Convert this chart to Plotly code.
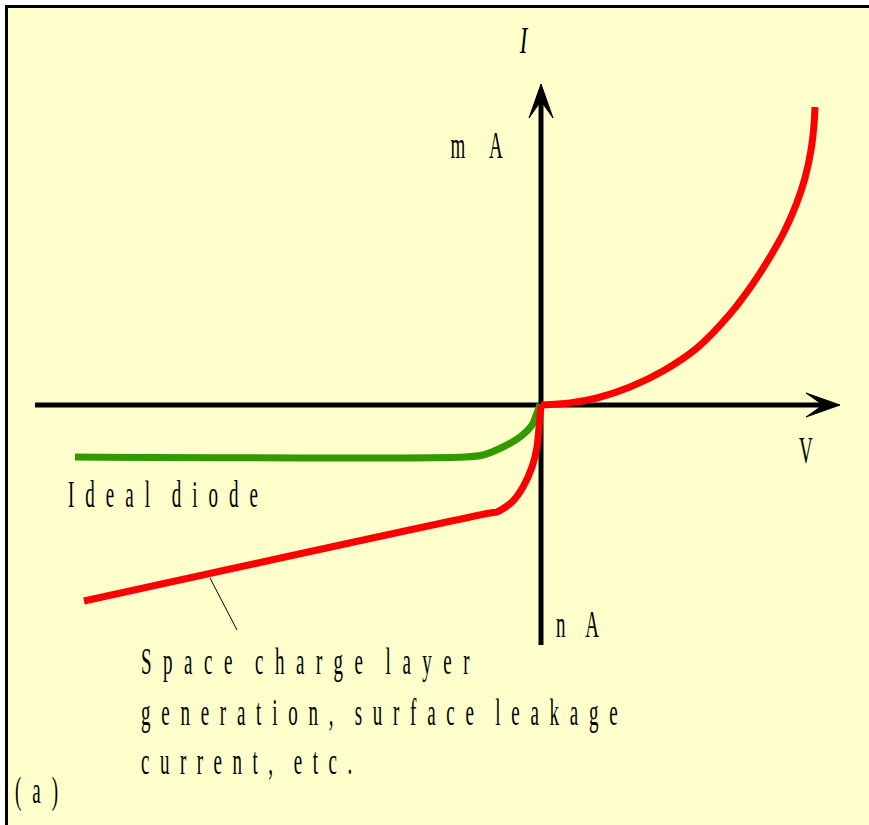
import json
import plotly.graph_objects as go

# ---- I-V data (schematic units: V horizontally, I vertically) ----
# forward branch (mA scale)
fwd_v = [0.0, 0.29, 0.56, 0.89, 1.22, 1.56, 1.89, 2.11, 2.29, 2.43, 2.55, 2.64, 2.70, 2.73, 2.74]
fwd_i = [0.0, 0.02, 0.07, 0.18, 0.34, 0.57, 0.91, 1.20, 1.48, 1.73, 2.00, 2.27, 2.55, 2.80, 2.98]

# real reverse branch: generation / leakage current (nA scale)
rev_v = [-4.57, -0.51, -0.44, -0.29, -0.18, -0.09, -0.04, -0.02, 0.0]
rev_i = [-1.96, -1.08, -1.07, -0.97, -0.82, -0.62, -0.42, -0.22, 0.0]

# ideal diode reverse branch (saturates)
ideal_v = [-4.66, -0.76, -0.58, -0.38, -0.21, -0.09, -0.04, -0.01]
ideal_i = [-0.52, -0.52, -0.50, -0.42, -0.32, -0.20, -0.08, 0.01]

# axes extents (tail, tip)
v_axis = [-5.06, 2.99]
i_axis = [-2.40, 3.21]

# leader line from the reverse branch to its caption
lead_v = [-3.31, -3.04]
lead_i = [-1.73, -2.25]

X_RANGE = [-5.41, 3.28]
Y_RANGE = [-4.20, 4.05]
W, H = 869, 825

RED = "#FF0000"
GREEN = "#339900"
BG = "#FFFFCC"

HEAD_LEN, HEAD_HALF, HEAD_NOTCH = 0.34, 0.12, 0.17


def arrow_head(tip, direction):
    """Stealth-style arrow head polygon at the given tip, pointing along direction."""
    dx, dy = direction
    px, py = -dy, dx
    tx, ty = tip
    bx, by = tx - dx * HEAD_LEN, ty - dy * HEAD_LEN
    nx, ny = tx - dx * HEAD_NOTCH, ty - dy * HEAD_NOTCH
    xs = [tx, bx + px * HEAD_HALF, nx, bx - px * HEAD_HALF, tx]
    ys = [ty, by + py * HEAD_HALF, ny, by - py * HEAD_HALF, ty]
    return xs, ys


fig = go.Figure()

# axes
fig.add_trace(go.Scatter(x=[v_axis[0], v_axis[1] - HEAD_NOTCH], y=[0, 0], mode="lines",
                         line=dict(color="black", width=5)))
fig.add_trace(go.Scatter(x=[0, 0], y=[i_axis[0], i_axis[1] - HEAD_NOTCH], mode="lines",
                         line=dict(color="black", width=5)))
hx, hy = arrow_head((v_axis[1], 0), (1, 0))
fig.add_trace(go.Scatter(x=hx, y=hy, mode="lines", fill="toself", fillcolor="black",
                         line=dict(color="black", width=1)))
hx, hy = arrow_head((0, i_axis[1]), (0, 1))
fig.add_trace(go.Scatter(x=hx, y=hy, mode="lines", fill="toself", fillcolor="black",
                         line=dict(color="black", width=1)))

# curves
fig.add_trace(go.Scatter(x=ideal_v, y=ideal_i, mode="lines",
                         line=dict(color=GREEN, width=7, shape="spline", smoothing=0.8)))
fig.add_trace(go.Scatter(x=rev_v, y=rev_i, mode="lines",
                         line=dict(color=RED, width=7, shape="spline", smoothing=0.8)))
fig.add_trace(go.Scatter(x=fwd_v, y=fwd_i, mode="lines",
                         line=dict(color=RED, width=7, shape="spline", smoothing=0.9)))
fig.add_trace(go.Scatter(x=lead_v, y=lead_i, mode="lines",
                         line=dict(color="black", width=1)))


def px_x(p):
    return p / W


def px_y(p):
    return 1 - p / H


FONT = "Liberation Serif"
labels = [
    # text, x, y, xanchor, italic
    ("I", 524, 40, "center", True),
    ("m A", 482, 145, "center", False),
    ("V", 806, 450, "center", False),
    ("Ideal diode", 66, 494, "left", False),
    ("n A", 583, 624, "center", False),
    ("Space charge layer", 139, 661, "left", False),
    ("generation, surface leakage", 139, 712, "left", False),
    ("current, etc.", 139, 761, "left", False),
    ("(a)", 13, 790, "left", False),
]

# condensed, letter-spaced lettering: letter spacing, word spacing, horizontal squeeze
spacing = {
    "I": dict(ls=0, ws=0, sx=0.6),
    "m A": dict(ls=22, ws=-4, sx=0.5),
    "V": dict(ls=0, ws=0, sx=0.5),
    "Ideal diode": dict(ls=22, ws=-10, sx=0.5),
    "n A": dict(ls=22, ws=-12, sx=0.5),
    "Space charge layer": dict(ls=23, ws=-10, sx=0.5),
    "generation, surface leakage": dict(ls=21.5, ws=-10, sx=0.5),
    "current, etc.": dict(ls=21, ws=-10, sx=0.5),
    "(a)": dict(ls=22, ws=0, sx=0.5),
}

for text, x, y, xa, italic in labels:
    fig.add_annotation(
        x=px_x(x), y=px_y(y), xref="paper", yref="paper",
        text=text, showarrow=False, xanchor=xa, yanchor="middle",
        align="left" if xa == "left" else "center",
        font=dict(family=FONT, size=38, color="black",
                  style="italic" if italic else "normal"),
    )

fig.update_layout(
    width=W, height=H, autosize=False,
    margin=dict(l=0, r=0, t=0, b=0, pad=0),
    paper_bgcolor="white", plot_bgcolor="rgba(0,0,0,0)",
    showlegend=False, hovermode=False,
    xaxis=dict(range=X_RANGE, visible=False, fixedrange=True),
    yaxis=dict(range=Y_RANGE, visible=False, fixedrange=True),
    shapes=[dict(type="rect", xref="paper", yref="paper",
                 x0=6.5 / W, x1=1.05, y0=-0.05, y1=1 - 6.5 / H,
                 fillcolor=BG, line=dict(color="black", width=3), layer="below")],
)

post_js = """
var gd = document.getElementById('{plot_id}');
var spec = SPEC;
gd.querySelectorAll('g.annotation').forEach(function (g) {
  var idx = +g.getAttribute('data-index');
  var a = gd.layout.annotations[idx];
  var s = spec[a.text];
  if (!s) return;
  var t = g.querySelector('text.annotation-text');
  t.style.letterSpacing = s.ls + 'px';
  t.style.wordSpacing = s.ws + 'px';
  var bb = t.getBBox();
  var ox = a.xanchor === 'left' ? bb.x : bb.x + bb.width / 2;
  t.setAttribute('transform', 'translate(' + ox + ',0) scale(' + s.sx + ',1) translate(' + (-ox) + ',0)');
});
""".replace("SPEC", json.dumps(spacing))

fig.write_html("out.html", config=dict(displayModeBar=False, staticPlot=True),
               post_script=post_js)
